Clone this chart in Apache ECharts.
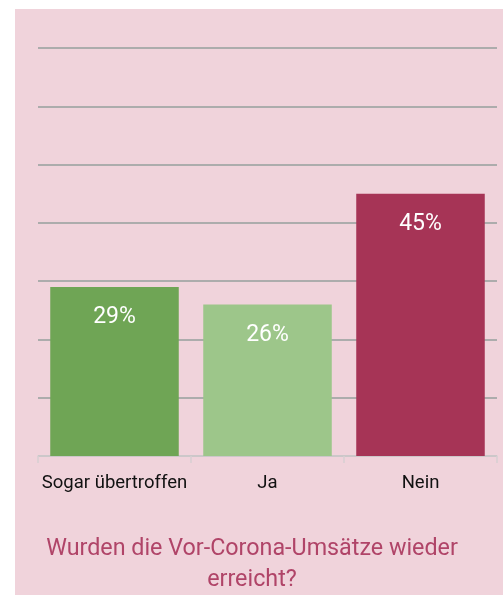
<!DOCTYPE html>
<html>
<head>
<meta charset="utf-8">
<script src="https://cdn.jsdelivr.net/npm/echarts@6/dist/echarts.min.js"></script>
<style>
  html, body { margin: 0; padding: 0; background: #ffffff; }
  #chart { width: 503px; height: 595px; }
</style>
</head>
<body>
<div id="chart"></div>
<script>
// data
var categories = ['Sogar übertroffen', 'Ja', 'Nein'];
var values = [29, 26, 45];
var barColors = ['#6fa555', '#9dc68a', '#a63456'];
var titleText = 'Wurden die Vor-Corona-Umsätze wieder\nerreicht?';

var chart = echarts.init(document.getElementById('chart'));

var option = {
    backgroundColor: '#ffffff',
    graphic: [{
        type: 'rect',
        z: -10,
        shape: { x: 15, y: 9, width: 488, height: 586 },
        style: { fill: '#f0d3db' }
    }],
    title: {
        text: titleText,
        left: 247,
        textAlign: 'center',
        top: 529,
        textStyle: {
            color: '#b04468',
            fontFamily: 'Roboto',
            fontWeight: 'normal',
            fontSize: 23.3,
            lineHeight: 31
        }
    },
    grid: {
        left: 38,
        right: 6,
        top: 48,
        bottom: 139,
        containLabel: false
    },
    xAxis: {
        type: 'category',
        data: categories,
        axisLine: { lineStyle: { color: '#d6d0d2', width: 1.5 } },
        axisTick: { show: true, length: 7, lineStyle: { color: '#d6d0d2', width: 1.5 } },
        axisLabel: {
            interval: 0,
            color: '#111111',
            fontFamily: 'Roboto',
            fontSize: 18.5,
            margin: 18
        }
    },
    yAxis: {
        type: 'value',
        min: 0,
        max: 70,
        interval: 10,
        axisLabel: { show: false },
        axisLine: { show: false },
        axisTick: { show: false },
        splitLine: { lineStyle: { color: '#acacac', width: 2 } }
    },
    series: [{
        type: 'bar',
        barWidth: '84%',
        data: values.map(function (v, i) {
            return { value: v, itemStyle: { color: barColors[i] } };
        }),
        label: {
            show: true,
            position: 'insideTop',
            distance: 19,
            color: '#ffffff',
            fontFamily: 'Roboto',
            fontSize: 23,
            formatter: '{c}%'
        }
    }]
};

chart.setOption(option);
</script>
</body>
</html>
